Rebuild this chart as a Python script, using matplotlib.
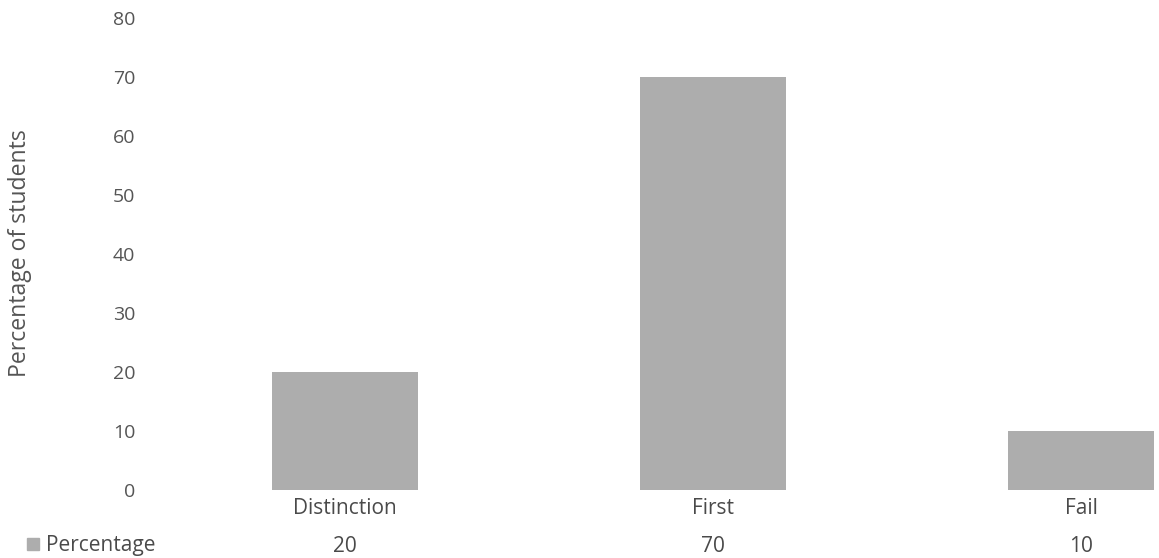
import matplotlib
matplotlib.use("Agg")
import matplotlib.pyplot as plt
from matplotlib.transforms import blended_transform_factory

categories = ["Distinction", "First", "Fail"]
values = [20, 70, 10]
series_name = "Percentage"
y_ticks = [0, 10, 20, 30, 40, 50, 60, 70, 80]
y_label = "Percentage of students"

W, H = 1159, 558
fig = plt.figure(figsize=(W / 100, H / 100), dpi=100)
fig.patch.set_facecolor("white")

left_px, right_px, top_px, bottom_px = 161, 1159, 18, 490
ax = fig.add_axes([left_px / W, (H - bottom_px) / H,
                   (right_px - left_px) / W, (bottom_px - top_px) / H])
ax.set_facecolor("none")

spacing = 368.0
xs = list(range(len(categories)))
bar_color = "#adadad"
ax.bar(xs, values, width=146 / spacing, color=bar_color, edgecolor="none")

ax.set_xlim(-0.5, -0.5 + (right_px - left_px) / spacing)
ax.set_ylim(0, 80)
ax.set_yticks(y_ticks)
ax.set_yticklabels([str(t) for t in y_ticks])
ax.tick_params(axis="y", length=0, pad=18.5, labelsize=14, labelcolor="#555555")
ax.set_xticks([])
for s in ax.spines.values():
    s.set_visible(False)

txt_kw = dict(fontsize=15, color="#4a4a4a", family="Open Sans")
for lab in ax.get_yticklabels():
    lab.set_family("Open Sans")

trans = blended_transform_factory(ax.transData, fig.transFigure)
for x, c, v in zip(xs, categories, values):
    ax.text(x, (H - 509) / H, c, transform=trans, ha="center", va="center", **txt_kw)
    ax.text(x, (H - 546) / H, str(v), transform=trans, ha="center", va="center", **txt_kw)

# legend key in data table
fig.patches.append(plt.Rectangle((27 / W, (H - 550) / H), 12 / W, 12 / H,
                                 transform=fig.transFigure, color=bar_color))
fig.text(46 / W, (H - 546) / H, series_name, ha="left", va="center", **txt_kw)

fig.text(20 / W, (H - 253) / H, y_label, rotation=90, ha="center", va="center",
         fontsize=16.6, color="#555555", family="Open Sans")

fig.savefig("out.png", dpi=100, facecolor="white")
